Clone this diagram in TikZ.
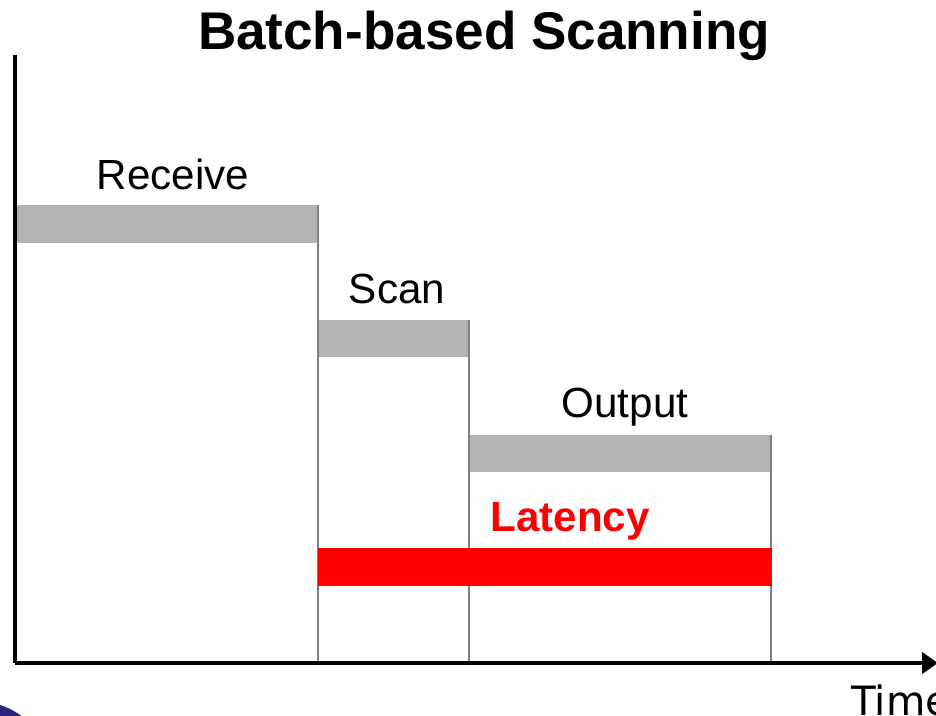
\documentclass[tikz,border=0pt]{standalone}
\usepackage{fontspec}
\setmainfont{Liberation Sans}
\newfontfamily\timefont{DejaVu Sans}
\usetikzlibrary{arrows.meta}
\definecolor{bargray}{HTML}{B3B3B3}
\definecolor{linegray}{HTML}{808080}
\definecolor{logoblue}{HTML}{2B2375}

\begin{document}
\begin{tikzpicture}[x=0.02cm, y=-0.02cm,
    bar/.style = {fill=bargray},
    sep/.style = {draw=linegray, line width=0.8pt},
    axis/.style = {draw=black, line width=0.08cm},
    lbl/.style = {anchor=base, inner sep=0pt, font=\fontsize{24}{28}\selectfont}]
      \useasboundingbox (0,0) rectangle (936,716);
      \clip (0,0) rectangle (936,716);

      \node[lbl, font=\fontsize{30.2}{36}\selectfont\bfseries] (title) at (484,50) {Batch-based Scanning};

      % phases
      \fill[bar] (15,205) rectangle (318,243);
      \fill[bar] (318,320) rectangle (469,357);
      \fill[bar] (469,435) rectangle (771,472);
      \draw[sep] (318,205) -- (318,663);
      \draw[sep] (469,320) -- (469,663);
      \draw[sep] (771,435) -- (771,663);
      \fill[red] (318,548) rectangle (772,586);

      \node[lbl] (receive) at (173,190) {Receive};
      \node[lbl] (scan) at (397,303) {Scan};
      \node[lbl] (output) at (625,417) {Output};
      \node[lbl, text=red, font=\fontsize{24}{28}\selectfont\bfseries] (latency) at (570,531) {Latency};

      % axes
      \coordinate (top) at (15,55);
      \coordinate (origin) at (15,663);
      \coordinate (end) at (938,663);
      \draw[axis] (top) -- (origin);
      \draw[axis, -{Triangle[length=0.32cm, width=0.42cm]}] (origin) -- (end);
      \node[lbl, anchor=base west, font=\timefont\fontsize{23}{28}\selectfont] (time) at (851,715) {Time};

      \fill[logoblue] (-20,770) circle (68);
    \end{tikzpicture}
\end{document}
